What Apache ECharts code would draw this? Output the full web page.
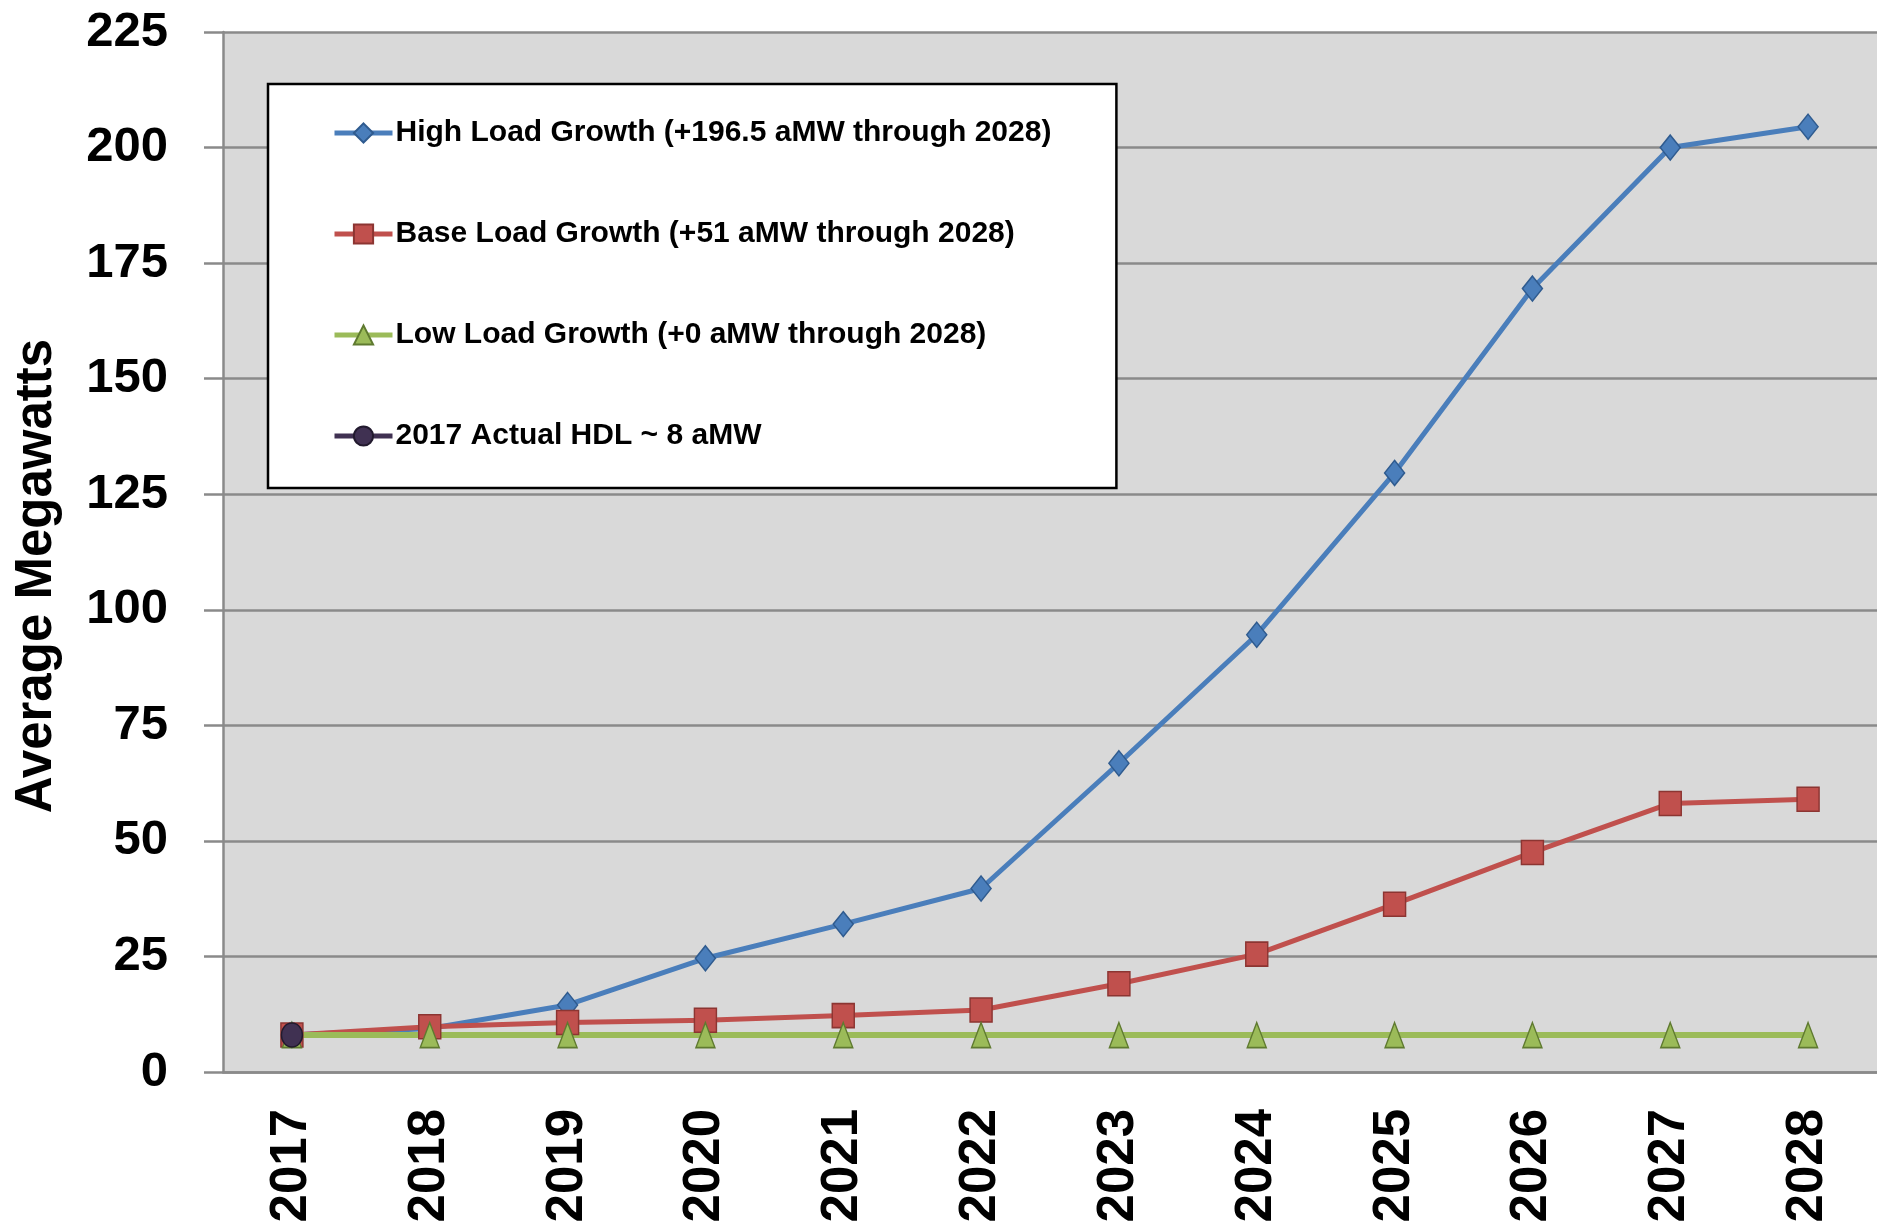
<!DOCTYPE html>
<html>
<head>
<meta charset="utf-8">
<title>Average Megawatts</title>
<script src="https://cdn.jsdelivr.net/npm/echarts@6/dist/echarts.min.js"></script>
<style>
  html, body { margin: 0; padding: 0; background: #fff; }
  #box { width: 1877px; height: 1230px; }
</style>
</head>
<body>
<div id="box"></div>
<script>
// years on the x axis
const years = ["2017", "2018", "2019", "2020", "2021", "2022", "2023", "2024", "2025", "2026", "2027", "2028"];
// values (aMW)
const highGrowth = [8, 9.4, 14.5, 24.6, 32, 39.7, 66.8, 94.6, 129.6, 169.5, 200, 204.5];
const baseGrowth = [8, 9.8, 10.7, 11.2, 12.2, 13.4, 19.1, 25.5, 36.3, 47.5, 58.1, 59];
const lowGrowth = [8, 8, 8, 8, 8, 8, 8, 8, 8, 8, 8, 8];
const actual2017 = [8, null, null, null, null, null, null, null, null, null, null, null];
const seriesNames = [
  "High Load Growth (+196.5 aMW through 2028)",
  "Base Load Growth (+51 aMW through 2028)",
  "Low Load Growth (+0 aMW through 2028)",
  "2017 Actual HDL ~ 8 aMW"
];
const yTicks = { min: 0, max: 225, step: 25 };

const font = '"Liberation Sans", Arial, sans-serif';
const gridGray = "#8a8a8a";

let myChart = echarts.init(document.getElementById("box"));

function lineSeries(name, data, color, border, symbol, size, width) {
  return {
    name: name,
    type: "line",
    data: data,
    symbol: symbol,
    symbolSize: size,
    showAllSymbol: true,
    lineStyle: { color: color, width: width },
    itemStyle: { color: color, borderColor: border, borderWidth: 1.5 },
    emphasis: { disabled: true }
  };
}

let option = {
  animation: false,
  grid: {
    left: 223,
    right: 0,
    top: 32,
    bottom: 158,
    outerBoundsMode: "none",
    containLabel: false,
    show: true,
    backgroundColor: "#d9d9d9",
    borderWidth: 0
  },
  legend: {
    orient: "vertical",
    left: 268,
    top: 84,
    padding: [32, 65, 35, 64],
    backgroundColor: "#ffffff",
    borderColor: "#000000",
    borderWidth: 2.5,
    itemWidth: 58,
    itemHeight: 24,
    itemGap: 67,
    lineStyle: { width: 5 },
    textStyle: {
      fontFamily: font,
      fontWeight: "bold",
      fontSize: 30,
      lineHeight: 34,
      color: "#000",
      padding: [0, 0, 0, -2]
    },
    data: seriesNames
  },
  xAxis: {
    type: "category",
    data: years,
    boundaryGap: true,
    axisLine: { lineStyle: { color: gridGray, width: 2.5 } },
    axisTick: { show: false },
    axisLabel: {
      rotate: 90,
      margin: 37,
      padding: [0, 0, 10, 0],
      fontFamily: font,
      fontWeight: "bold",
      fontSize: 51,
      color: "#000"
    },
    splitLine: { show: false }
  },
  yAxis: {
    type: "value",
    min: yTicks.min,
    max: yTicks.max,
    interval: yTicks.step,
    name: "Average Megawatts",
    nameLocation: "middle",
    nameGap: 161,
    nameTextStyle: {
      fontFamily: font,
      fontWeight: "bold",
      fontSize: 51,
      color: "#000",
      padding: [0, 48, 0, 0]
    },
    axisLine: { show: true, lineStyle: { color: gridGray, width: 2.5 } },
    axisTick: { show: true, length: 19, lineStyle: { color: gridGray, width: 2.5 } },
    axisLabel: {
      margin: 55,
      fontFamily: font,
      fontWeight: "bold",
      fontSize: 49,
      color: "#000"
    },
    splitLine: { show: true, lineStyle: { color: gridGray, width: 2.5 } }
  },
  series: [
    lineSeries(seriesNames[0], highGrowth, "#4a7ebb", "#2f5b8f", "diamond", [20, 25], 5),
    lineSeries(seriesNames[1], baseGrowth, "#c0504d", "#8c3532", "rect", [22, 24], 5),
    lineSeries(seriesNames[2], lowGrowth, "#9bbb59", "#5f7a30", "triangle", [19, 25], 6),
    lineSeries(seriesNames[3], actual2017, "#403152", "#221a2e", "circle", [21, 24], 5)
  ]
};
myChart.setOption(option);
</script>
</body>
</html>
